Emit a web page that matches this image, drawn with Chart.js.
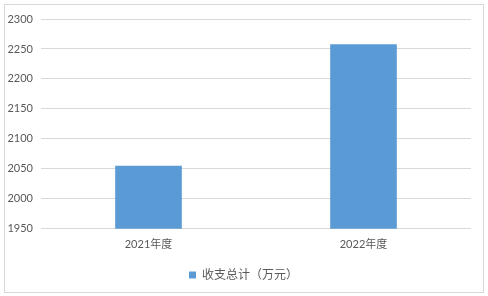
<!DOCTYPE html>
<html>
<head>
<meta charset="utf-8">
<script src="https://cdn.jsdelivr.net/npm/chart.js@4"></script>
<style>
  body { margin: 0; background: #fff; }
  #wrap { width: 488px; height: 296px; }
</style>
</head>
<body>
<div id="wrap"><canvas id="grafico" width="488" height="296"></canvas></div>
<script>
// datos del grafico
const categorias = ["2021年度", "2022年度"];
const valores = [2055, 2258];
const serie = "收支总计（万元）";
const ejeY = { min: 1950, max: 2300, paso: 50 };

const fuente = "Lato, 'Noto Sans CJK SC', sans-serif";

// marco gris alrededor del grafico
const marco = {
  id: "marco",
  beforeDraw(chart) {
    const ctx = chart.ctx;
    ctx.save();
    ctx.fillStyle = "#fff";
    ctx.fillRect(0, 0, chart.width, chart.height);
    ctx.strokeStyle = "#d9d9d9";
    ctx.lineWidth = 1;
    ctx.strokeRect(4.5, 4.5, 479, 288);
    ctx.restore();
  },
  // la leyenda va centrada en todo el lienzo, no solo en el area izquierda
  afterLayout(chart) {
    chart.legend.left += 8;
    chart.legend.right += 8;
  },
};

const grafico = new Chart(document.getElementById("grafico"), {
  type: "bar",
  data: {
    labels: categorias,
    datasets: [
      {
        label: serie,
        data: valores,
        backgroundColor: "#5b9bd5",
        categoryPercentage: 1,
        barPercentage: 0.31,
      },
    ],
  },
  options: {
    responsive: false,
    animation: false,
    layout: { padding: { left: 0, right: 17, top: 19, bottom: 5 } },
    scales: {
      x: {
        afterFit(scale) { scale.height = scale.height + 11; },
        grid: { display: false },
        border: { display: false },
        ticks: { color: "#595959", font: { family: fuente, size: 11 }, padding: 1 },
      },
      y: {
        min: ejeY.min,
        max: ejeY.max,
        afterFit(scale) { scale.width = 41; },
        grid: { color: "#d9d9d9", drawTicks: false },
        border: { display: false },
        ticks: {
          stepSize: ejeY.paso,
          color: "#595959",
          font: { family: fuente, size: 11 },
          padding: 8,
          callback: (v) => String(v),
        },
      },
    },
    plugins: {
      legend: {
        position: "bottom",
        labels: {
          color: "#595959",
          font: { family: fuente, size: 12 },
          boxWidth: 7,
          boxHeight: 7,
          padding: 6,
        },
      },
      tooltip: { enabled: false },
    },
  },
  plugins: [marco],
});
</script>
</body>
</html>
